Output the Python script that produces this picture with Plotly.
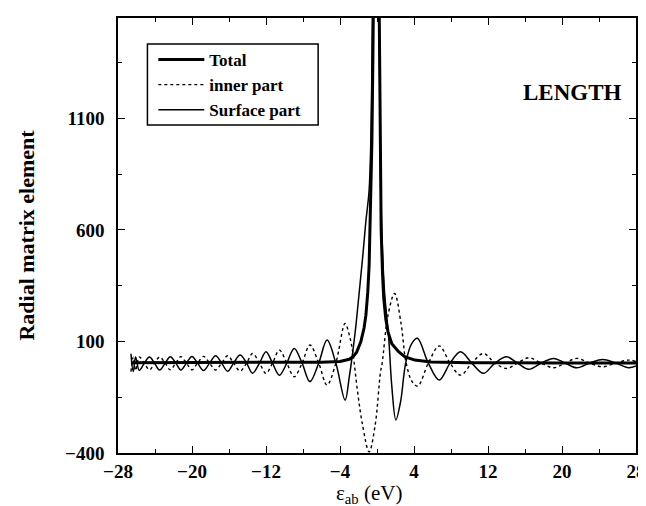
import plotly.graph_objects as go

# ---- data ----
total_x = [-26.6, -20, -12, -8, -6, -4, -3, -2.6, -2.2, -1.75, -1.4, -1.2, -1.0, -0.85,
           -0.68, -0.55, -0.45, -0.35, -0.2, -0.1, 0.0, 0.15, 0.25, 0.34, 0.45, 0.6,
           0.73, 0.95, 1.19, 1.6, 2.33, 3.0, 4.08, 5.85, 10, 20, 28]
total_y = [5, 5, 5, 6, 7, 10, 20, 31, 52, 98, 160, 218, 320, 442,
           742, 1000, 1350, 1800, 2600, 2900, 2700, 2000, 1400, 890, 600, 400,
           293, 200, 143, 90, 54, 32, 16.5, 8, 5, 4, 3]

inner_x = [-26.6, -26.35, -26.1, -25.7, -25.15, -24.6, -24.05, -23.5, -22.9, -22.35,
           -21.75, -21.2, -20.6, -20.0, -19.4, -18.75, -18.1, -17.45, -16.8, -16.15,
           -15.5, -14.8, -14.1, -13.45, -12.7, -12.0, -11.3, -10.55, -9.75, -8.95,
           -8.1, -7.25, -6.3, -5.4, -4.45, -3.45, -3.0, -2.63, -2.1, -1.56, -0.85,
           -0.2, 0.38, 0.55, 1.2, 1.9, 2.6, 3.15, 3.8, 4.4, 5.55, 6.73, 7.9, 9.03,
           10.25, 11.5, 12.75, 14.0, 15.2, 16.4, 17.75, 19.1, 20.35, 21.6, 23.0,
           24.4, 25.8, 27.2, 28.0]
inner_y = [-35, 30, -30, 30, 3, -27, 3, 30, 3, -27,
           3, 32, 3, -27, 3, 33, 3, -28, 3, 36,
           3, -33, 3, 46, 3, -43, 3, 61, 3, -58,
           3, 84, 3, -95, 3, 181, 130, 54, -125, -275, -395,
           -275, -36, 0, 220, 315, 180, 3, -80, -100, 3, 80, 3, -51,
           3, 46, 3, -21, 3, 27, 3, -18, 3, 24, 3,
           -13.5, 3, 16.5, 10]

surface_x = [-26.6, -26.35, -26.1, -25.7, -25.15, -24.6, -24.05, -23.5, -22.9, -22.35,
             -21.75, -21.2, -20.6, -20.0, -19.4, -18.75, -18.1, -17.45, -16.8, -16.15,
             -15.5, -14.8, -14.1, -13.45, -12.7, -12.0, -11.3, -10.55, -9.75, -8.95,
             -8.1, -7.25, -6.3, -5.4, -4.45, -3.45, -3.0, -2.6, -2.27, -1.9, -1.5,
             -1.2, -0.85, -0.6, -0.45, -0.3, -0.1, 0.1, 0.25, 0.34, 0.5, 0.8, 1.27,
             1.6, 2.04, 2.55, 3.1, 3.75, 4.37, 5.55, 6.73, 7.9, 9.03, 10.25, 11.5,
             12.75, 14.0, 15.2, 16.4, 17.75, 19.1, 20.35, 21.6, 23.0, 24.4, 25.8,
             27.2, 28.0]
surface_y = [45, -35, 30, -30, 3, 30, 3, -28, 3, 32,
             3, -28, 3, 33, 3, -30, 3, 36, 3, -33,
             3, 39, 3, -42, 3, 54, 3, -51, 3, 69,
             3, -80, 3, 106, 3, -163, -60, 60, 175, 330, 500,
             640, 780, 1150, 1700, 2500, 3200, 2600, 1500, 950, 620, 330, 114,
             -100, -252, -170, 3, 90, 114, 3, -73, 3, 54, 3, -43,
             3, 31, 3, -25, 3, 24, 3, -18, 3, 19.5, 3,
             -18, -10]

x_ticks = [-28, -20, -12, -4, 4, 12, 20, 28]
y_ticks = [-400, 100, 600, 1100]

SERIF = "Liberation Serif, Times New Roman, serif"

# plot-area geometry (pixels)
L, R, T, B = 110, 638, 10, 445
def px_x(p):
    return (p - L) / (R - L)
def px_y(p):
    return (B - p) / (B - T)

fig = go.Figure()
fig.add_trace(go.Scatter(x=total_x, y=total_y, mode="lines", name="Total",
                         line=dict(color="black", width=3)))
fig.add_trace(go.Scatter(x=inner_x, y=inner_y, mode="lines", name="inner part",
                         line=dict(color="black", width=1.4, dash="dot",
                                   shape="spline", smoothing=1.0)))
fig.add_trace(go.Scatter(x=surface_x, y=surface_y, mode="lines", name="Surface part",
                         line=dict(color="black", width=1.5,
                                   shape="spline", smoothing=1.0)))

axis_common = dict(showline=True, linecolor="black", linewidth=1.5, mirror="allticks",
                   ticks="inside", ticklen=7, tickwidth=1.2, tickcolor="black",
                   showgrid=False, zeroline=False,
                   tickfont=dict(family=SERIF, size=19, color="black", weight="bold"))

fig.update_xaxes(range=[-28, 28], tickmode="array", tickvals=x_ticks,
                 minor=dict(ticks="inside", ticklen=4, tickcolor="black", dtick=4, tick0=-28),
                 **axis_common)
fig.update_yaxes(range=[-400, 1550], tickmode="array", tickvals=y_ticks,
                 ticklabelstandoff=8,
                 minor=dict(ticks="inside", ticklen=4, tickcolor="black", dtick=250, tick0=-400),
                 title=dict(text="Radial matrix element", standoff=24,
                            font=dict(family=SERIF, size=22, color="black", weight="bold")),
                 **axis_common)

# x-axis title placed just below the tick labels
fig.add_annotation(x=px_x(366), y=px_y(486), xref="paper", yref="paper",
                   xanchor="center", yanchor="middle", borderpad=0,
                   text="ε<sub>ab</sub> (eV)", showarrow=False,
                   font=dict(family=SERIF, size=21, color="black"))

fig.add_annotation(x=21.1, y=1215, xref="x", yref="y", text="LENGTH",
                   showarrow=False, xanchor="center", yanchor="middle",
                   font=dict(family=SERIF, size=23, color="black", weight="bold"))

# legend frame
fig.add_shape(type="rect", xref="paper", yref="paper",
              x0=px_x(140), x1=px_x(314), y0=px_y(117), y1=px_y(36),
              line=dict(color="black", width=1.5), fillcolor="white", layer="above")

fig.update_layout(
    width=646, height=506,
    margin=dict(l=L, r=646 - R, t=T, b=506 - B),
    paper_bgcolor="white", plot_bgcolor="white",
    showlegend=True,
    legend=dict(x=px_x(146), y=px_y(34), xanchor="left", yanchor="top",
                bgcolor="rgba(0,0,0,0)", borderwidth=0,
                font=dict(family=SERIF, size=17, color="black", weight="bold"),
                itemwidth=46, tracegroupgap=0),
)

fig.write_html("out.html")
